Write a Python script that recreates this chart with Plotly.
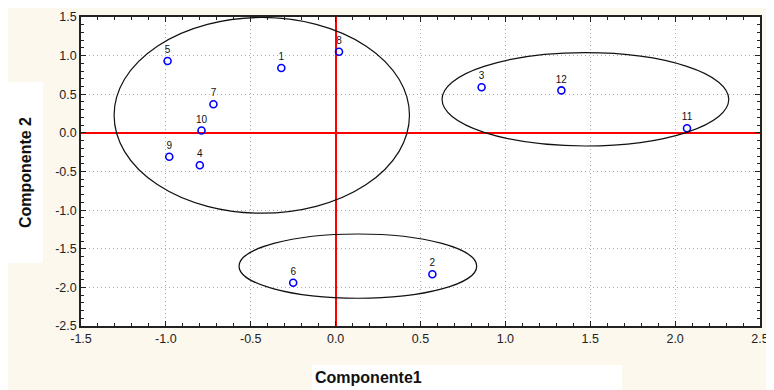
import plotly.graph_objects as go

# Data
labels = ["1", "2", "3", "4", "5", "6", "7", "8", "9", "10", "11", "12"]
comp1 = [-0.32, 0.57, 0.86, -0.80, -0.99, -0.25, -0.72, 0.02, -0.98, -0.79, 2.07, 1.33]
comp2 = [0.84, -1.83, 0.59, -0.42, 0.93, -1.94, 0.37, 1.05, -0.31, 0.03, 0.06, 0.55]

# Group ellipses: (x0, x1, y0, y1) in data units
ell_x0 = [-1.305, 0.627, -0.569]
ell_x1 = [0.435, 2.316, 0.831]
ell_y0 = [-1.04, -0.17, -2.141]
ell_y1 = [1.494, 1.038, -1.309]

x_ticks = [-1.5, -1.0, -0.5, 0.0, 0.5, 1.0, 1.5, 2.0, 2.5]
y_ticks = [-2.5, -2.0, -1.5, -1.0, -0.5, 0.0, 0.5, 1.0, 1.5]

fmt = lambda v: f"{v:.1f}"
FONT = "Arial, Liberation Sans, sans-serif"

fig = go.Figure()
fig.add_trace(go.Scatter(
    x=comp1, y=comp2, mode="markers+text", text=labels,
    textposition="top center",
    textfont=dict(family=FONT, size=10, color="#111"),
    marker=dict(symbol="circle-open", size=7, color="#0000ff", line=dict(width=1.6, color="#0000ff")),
    showlegend=False, hoverinfo="skip", cliponaxis=False,
))

for a, b, c, d in zip(ell_x0, ell_x1, ell_y0, ell_y1):
    fig.add_shape(type="circle", xref="x", yref="y", x0=a, x1=b, y0=c, y1=d,
                  line=dict(color="#111", width=1.2), layer="above")

CREAM = "#fcf8ee"
axis_common = dict(
    showgrid=True, gridcolor="#aaaaaa", griddash="1px,3px", gridwidth=1,
    zeroline=True, zerolinecolor="#ff0000", zerolinewidth=1.5,
    showline=True, linecolor="#222", linewidth=1.5, mirror="ticks",
    ticks="inside", ticklen=5, tickcolor="#222",
    minor=dict(dtick=0.1, ticks="inside", ticklen=3, tickcolor="#222", showgrid=False),
    tickfont=dict(size=12.5, color="#222"),
    automargin=False,
)

fig.update_layout(
    width=766, height=382,
    margin=dict(l=73, r=14, t=9, b=64),
    paper_bgcolor=CREAM, plot_bgcolor="white",
    font=dict(family=FONT, size=12, color="#222"),
    xaxis=dict(range=[-1.5, 2.5], tickvals=x_ticks, ticktext=[fmt(v) for v in x_ticks], **axis_common),
    yaxis=dict(range=[-2.5, 1.5], tickvals=y_ticks, ticktext=[fmt(v) for v in y_ticks], **axis_common),
)

# white boxes behind titles
fig.add_shape(type="rect", xref="paper", yref="paper", x0=-0.11, x1=-0.056, y0=0.204, y1=0.79,
              fillcolor="white", line_width=0, layer="below")
fig.add_shape(type="rect", xref="paper", yref="paper", x0=0.340, x1=0.797, y0=-0.126, y1=-0.21,
              fillcolor="white", line_width=0, layer="below")

fig.add_annotation(text="<b>Componente1</b>", xref="paper", yref="paper", x=0.341, y=-0.168,
                   xanchor="left", yanchor="middle", showarrow=False,
                   font=dict(size=16, color="#111", family=FONT))
fig.add_annotation(text="<b>Componente 2</b>", xref="paper", yref="paper", x=-0.0825, y=0.498,
                   textangle=-90, xanchor="center", yanchor="middle", showarrow=False,
                   font=dict(size=16, color="#111", family=FONT))

fig.write_html("out.html")
